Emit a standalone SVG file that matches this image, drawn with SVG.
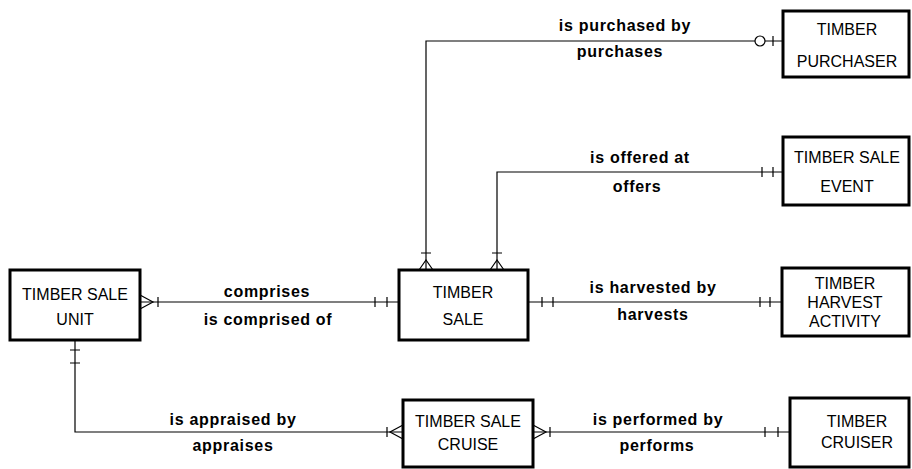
<svg xmlns="http://www.w3.org/2000/svg" width="912" height="469" viewBox="0 0 912 469">
<style>
.box{fill:#fff;stroke:#000;stroke-width:3}
.bt{font-family:"Liberation Sans",Arial,sans-serif;font-size:16px;fill:#000;text-anchor:middle}
.lb{font-family:"Liberation Sans",Arial,sans-serif;font-size:16px;font-weight:bold;fill:#000;text-anchor:middle;letter-spacing:0.7px}
.ln{fill:none;stroke:#000;stroke-width:1.2}
</style>
<rect width="912" height="469" fill="#fff"/>
<g id="connectors">
  <!-- purchases -->
  <path class="ln" d="M426,270 V41 H783"/>
  <path class="ln" d="M419,270 L426,260 L433,270 M421,253 H431"/>
  <circle cx="760" cy="41" r="5" fill="#fff" stroke="#000" stroke-width="1.2"/>
  <path class="ln" d="M773,36 V46"/>
  <!-- offers -->
  <path class="ln" d="M497,270 V172 H783"/>
  <path class="ln" d="M490,270 L497,260 L504,270 M492,253 H502"/>
  <path class="ln" d="M762,167 V177 M773,167 V177"/>
  <!-- comprises -->
  <path class="ln" d="M140,302 H399"/>
  <path class="ln" d="M140,295 L153,302 L140,309 M158,297 V307"/>
  <path class="ln" d="M375,297 V307 M387,297 V307"/>
  <!-- harvests -->
  <path class="ln" d="M528,302 H782"/>
  <path class="ln" d="M542,297 V307 M553,297 V307 M760,297 V307 M770,297 V307"/>
  <!-- appraises -->
  <path class="ln" d="M75,340 V432 H403"/>
  <path class="ln" d="M70,350 H80 M70,363 H80"/>
  <path class="ln" d="M403,425 L390,432 L403,439 M387,427 V437"/>
  <!-- performs -->
  <path class="ln" d="M533,432 H790"/>
  <path class="ln" d="M533,425 L546,432 L533,439 M550,427 V437"/>
  <path class="ln" d="M765,427 V437 M778,427 V437"/>
  <text class="lb" x="625" y="31">is purchased by</text>
  <text class="lb" x="620" y="57">purchases</text>
  <text class="lb" x="640" y="163">is offered at</text>
  <text class="lb" x="637" y="192">offers</text>
  <text class="lb" x="267" y="297">comprises</text>
  <text class="lb" x="268" y="325">is comprised of</text>
  <text class="lb" x="653" y="293">is harvested by</text>
  <text class="lb" x="653" y="320">harvests</text>
  <text class="lb" x="233" y="425">is appraised by</text>
  <text class="lb" x="233" y="451">appraises</text>
  <text class="lb" x="658" y="425">is performed by</text>
  <text class="lb" x="657" y="451">performs</text>
</g>
<g id="timber-purchaser">
  <rect class="box" x="783" y="11" width="126" height="66"/>
  <text class="bt" x="847" y="35">TIMBER</text>
  <text class="bt" x="847" y="67">PURCHASER</text>
</g>
<g id="timber-sale-event">
  <rect class="box" x="783" y="137" width="126" height="68"/>
  <text class="bt" x="847" y="163">TIMBER SALE</text>
  <text class="bt" x="847" y="192">EVENT</text>
</g>
<g id="timber-sale-unit">
  <rect class="box" x="10" y="270" width="130" height="70"/>
  <text class="bt" x="75" y="300">TIMBER SALE</text>
  <text class="bt" x="75" y="325">UNIT</text>
</g>
<g id="timber-sale">
  <rect class="box" x="399" y="270" width="129" height="70"/>
  <text class="bt" x="463" y="298">TIMBER</text>
  <text class="bt" x="463" y="325">SALE</text>
</g>
<g id="timber-harvest-activity">
  <rect class="box" x="782" y="268" width="127" height="68"/>
  <text class="bt" x="845" y="289">TIMBER</text>
  <text class="bt" x="845" y="308">HARVEST</text>
  <text class="bt" x="845" y="327">ACTIVITY</text>
</g>
<g id="timber-sale-cruise">
  <rect class="box" x="403" y="400" width="130" height="67"/>
  <text class="bt" x="468" y="427">TIMBER SALE</text>
  <text class="bt" x="468" y="450">CRUISE</text>
</g>
<g id="timber-cruiser">
  <rect class="box" x="790" y="398" width="119" height="69"/>
  <text class="bt" x="857" y="427">TIMBER</text>
  <text class="bt" x="857" y="448">CRUISER</text>
</g>
</svg>
